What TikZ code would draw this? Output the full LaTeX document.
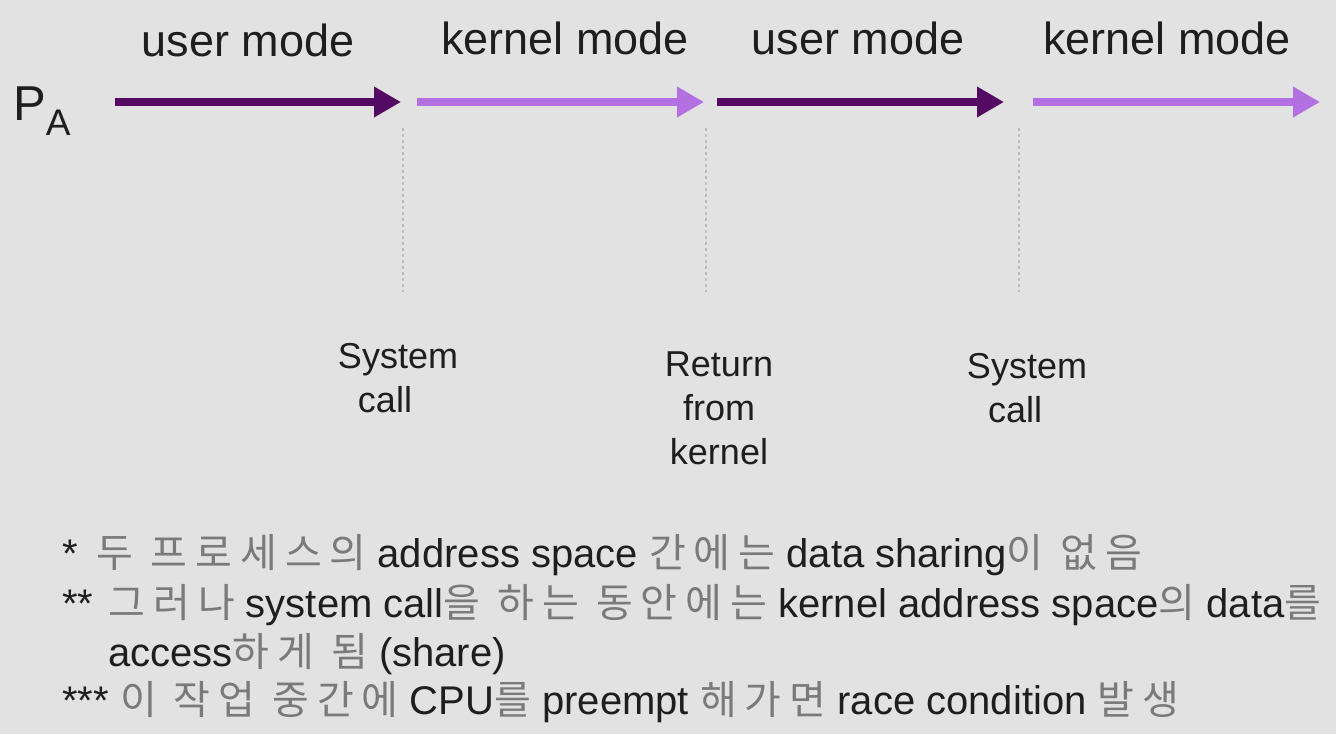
\documentclass[tikz,border=0pt]{standalone}
\usepackage{fontspec}
\setmainfont{Liberation Sans}
\newfontfamily\krfont[LetterSpace=20]{Noto Sans CJK KR}
\usetikzlibrary{arrows.meta}
\definecolor{bg}{RGB}{226,226,226}
\definecolor{darkpurple}{RGB}{84,10,98}
\definecolor{lightpurple}{RGB}{178,112,224}
\definecolor{txt}{RGB}{30,30,30}
\definecolor{krgray}{RGB}{122,122,122}
\definecolor{dotgray}{RGB}{188,188,196}
\newcommand{\K}[1]{{\krfont\color{krgray}#1}}
\tikzset{
  modearrow/.style={line width=8pt, -{Triangle[length=27pt,width=29pt]}},
  usermode/.style={modearrow, draw=darkpurple, fill=darkpurple},
  kernmode/.style={modearrow, draw=lightpurple, fill=lightpurple},
  modelabel/.style={inner sep=0pt, anchor=base, text=txt, font=\fontsize{45}{54}\selectfont},
  eventlabel/.style={inner sep=0pt, align=center, text=txt, font=\fontsize{36}{44}\selectfont},
  divider/.style={draw=dotgray, line width=2.2pt, dash pattern=on 3pt off 3pt},
  noteline/.style={inner sep=0pt, anchor=base west, text=txt, font=\fontsize{40}{48}\selectfont}
}
\begin{document}
\begin{tikzpicture}[x=1pt,y=-1pt]
\useasboundingbox (0,0) rectangle (1336,734);
\fill[bg] (0,0) rectangle (1336,734);

% process label
\node[inner sep=0pt, anchor=base west, text=txt, font=\fontsize{49}{58}\selectfont] (pa) at (13,120) {P\raisebox{-15pt}{\fontsize{37}{44}\selectfont A}};

% arrow endpoints
\coordinate (s1) at (115,102);  \coordinate (e1) at (401,102);
\coordinate (s2) at (417,102);  \coordinate (e2) at (704,102);
\coordinate (s3) at (717,102);  \coordinate (e3) at (1004,102);
\coordinate (s4) at (1033,102); \coordinate (e4) at (1320,102);

\draw[usermode] (s1) -- (e1);
\draw[kernmode] (s2) -- (e2);
\draw[usermode] (s3) -- (e3);
\draw[kernmode] (s4) -- (e4);

% mode labels
\node[modelabel] (m1) at (248,56) {user mode};
\node[modelabel] (m2) at (565,54) {kernel mode};
\node[modelabel] (m3) at (858,54) {user mode};
\node[modelabel] (m4) at (1167,54) {kernel mode};

% dotted dividers
\coordinate (d1t) at (403,128); \coordinate (d1b) at (403,292);
\coordinate (d2t) at (706,128); \coordinate (d2b) at (706,292);
\coordinate (d3t) at (1019,128); \coordinate (d3b) at (1019,292);
\draw[divider] (d1t) -- (d1b);
\draw[divider] (d2t) -- (d2b);
\draw[divider] (d3t) -- (d3b);

% event labels
\node[eventlabel] (ev1) at (398,378) {System\\call\hspace*{26pt}};
\node[eventlabel] (ev2) at (719,408) {Return\\from\\kernel};
\node[eventlabel] (ev3) at (1027,388) {System\\call\hspace*{24pt}};

% notes
\node[noteline] (n1) at (62,567) {*\hspace{8pt} \K{두 프로세스의} address space \K{간에는} data sharing\K{이 없음}};
\node[noteline] (n2) at (62,617) {**\hspace{4pt} \K{그러나} system call\K{을 하는 동안에는} kernel address space\K{의} data\K{를}};
\node[noteline] (n3) at (108,666) {access\K{하게 됨} (share)};
\node[noteline] (n4) at (62,714) {*** \K{이 작업 중간에} CPU\K{를} preempt \K{해가면} race condition \K{발생}};
\end{tikzpicture}
\end{document}
